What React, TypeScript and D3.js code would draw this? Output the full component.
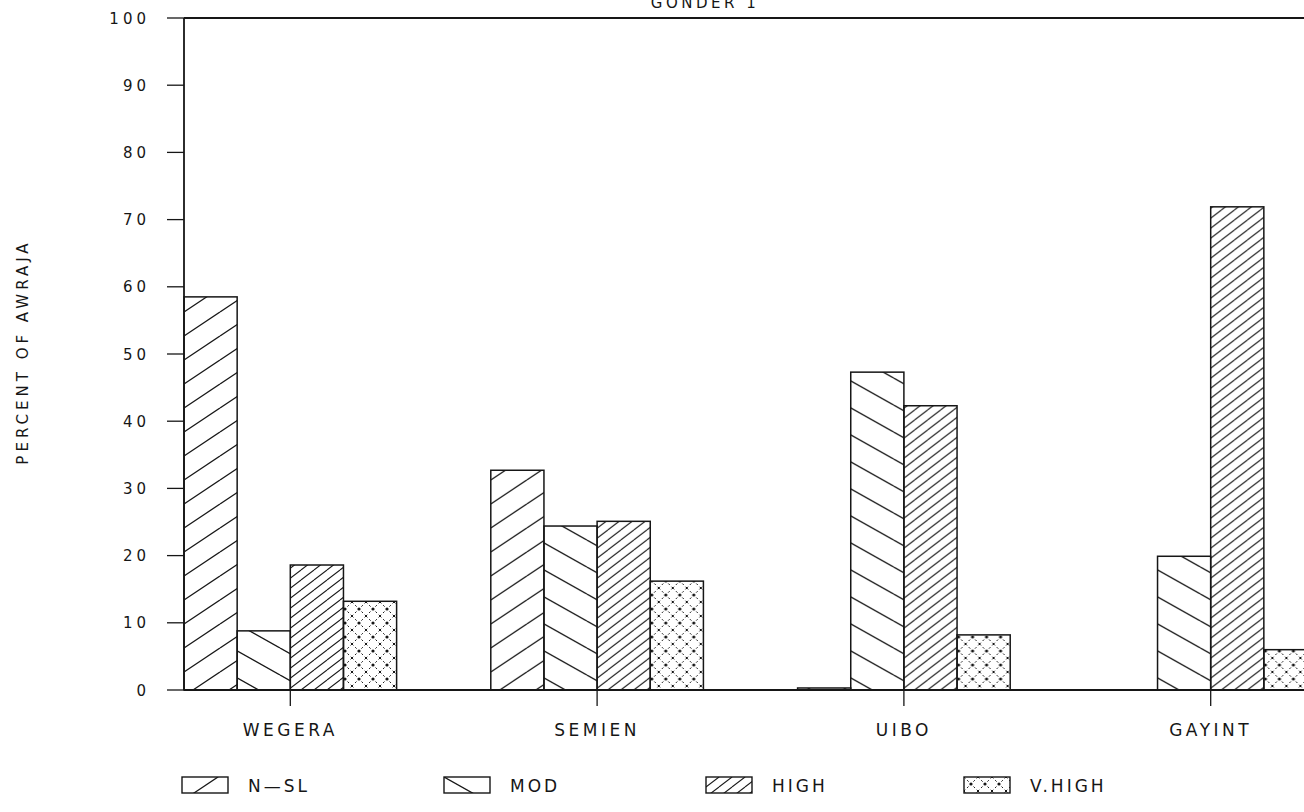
import React from "react";
import * as d3 from "d3";

const districts = ["WEGERA", "SEMIEN", "UIBO", "GAYINT"];
const classes = ["N-SL", "MOD", "HIGH", "V.HIGH"];
const legendLabels = ["N\u2014SL", "MOD", "HIGH", "V.HIGH"];
const nsl = [58.5, 32.7, 0.3, 0];
const mod = [8.8, 24.4, 47.3, 19.9];
const high = [18.6, 25.1, 42.3, 71.9];
const vhigh = [13.2, 16.2, 8.2, 6.0];
const yTicks = [0, 10, 20, 30, 40, 50, 60, 70, 80, 90, 100];

const series = [nsl, mod, high, vhigh];
const patternIds = ["pNsl", "pMod", "pHigh", "pVhigh"];
const ink = "#161616";
const font = "'DejaVu Sans', sans-serif";

const App: React.FC = () => {
    const width = 1304;
    const height = 812;
    const left = 184;
    const top = 18;
    const bottom = 690;
    const right = 1317;

    const x = d3.scaleBand<string>().domain(districts).range([left, right]).paddingInner(0.307).paddingOuter(0);
    const xs = d3.scaleBand<string>().domain(classes).range([0, x.bandwidth()]);
    const y = d3.scaleLinear().domain([0, 100]).range([bottom, top]);

    const legendX = [182, 444, 706, 964];

    return (
        <svg width={width} height={height} style={{position: "absolute", left: 0, top: 0, background: "#fff"}}>
            <defs>
                <pattern id="pNsl" patternUnits="userSpaceOnUse" width={36} height={24}>
                    {[-24, 0, 24].map((o) => (
                        <line key={o} x1={0} y1={24 + o} x2={36} y2={o} stroke={ink} strokeWidth={1.3} />
                    ))}
                </pattern>
                <pattern id="pMod" patternUnits="userSpaceOnUse" width={48} height={27}>
                    {[-27, 0, 27].map((o) => (
                        <line key={o} x1={0} y1={o} x2={48} y2={27 + o} stroke={ink} strokeWidth={1.3} />
                    ))}
                </pattern>
                <pattern id="pHigh" patternUnits="userSpaceOnUse" width={13} height={10}>
                    {[-10, 0, 10].map((o) => (
                        <line key={o} x1={0} y1={10 + o} x2={13} y2={o} stroke={ink} strokeWidth={1.1} />
                    ))}
                </pattern>
                <pattern id="pVhigh" patternUnits="userSpaceOnUse" width={14} height={14}>
                    <line x1={0} y1={0} x2={14} y2={14} stroke={ink} strokeWidth={1} strokeDasharray="2 2.5" />
                    <line x1={14} y1={0} x2={0} y2={14} stroke={ink} strokeWidth={1} strokeDasharray="2 2.5" />
                    <circle cx={7} cy={7} r={1.6} fill={ink} />
                    <circle cx={0} cy={0} r={0.9} fill={ink} />
                    <circle cx={14} cy={14} r={0.9} fill={ink} />
                </pattern>
            </defs>

            <text x={705} y={8} textAnchor="middle" fontFamily={font} fontSize={15} letterSpacing={3.5} fill={ink}>
                GONDER 1
            </text>

            {/* bars */}
            {districts.map((d, i) => (
                <g key={d} transform={`translate(${x(d)},0)`}>
                    {series.map((s, j) => (
                        <rect
                            key={j}
                            x={xs(classes[j])}
                            y={y(s[i])}
                            width={xs.bandwidth()}
                            height={bottom - y(s[i])}
                            fill={`url(#${patternIds[j]})`}
                            stroke={ink}
                            strokeWidth={1.5}
                        />
                    ))}
                </g>
            ))}

            {/* frame */}
            <line x1={left} y1={top} x2={width} y2={top} stroke={ink} strokeWidth={1.8} />
            <line x1={left} y1={top} x2={left} y2={bottom} stroke={ink} strokeWidth={1.8} />
            <line x1={left} y1={bottom} x2={width} y2={bottom} stroke={ink} strokeWidth={1.8} />

            {/* y axis */}
            {yTicks.map((t) => (
                <g key={t}>
                    <line x1={left - 17} x2={left} y1={y(t)} y2={y(t)} stroke={ink} strokeWidth={1.3} />
                    <text x={150} y={y(t) + 5.5} textAnchor="end" fontFamily={font} fontSize={15} letterSpacing={4} fill={ink}>
                        {t}
                    </text>
                </g>
            ))}
            <text
                transform={`translate(28,352) rotate(-90)`}
                textAnchor="middle"
                fontFamily={font}
                fontSize={15}
                letterSpacing={4}
                fill={ink}
            >
                PERCENT OF AWRAJA
            </text>

            {/* x axis */}
            {districts.map((d) => {
                const cx = (x(d) || 0) + x.bandwidth() / 2;
                return (
                    <g key={d}>
                        <line x1={cx} x2={cx} y1={bottom} y2={bottom + 16} stroke={ink} strokeWidth={1.3} />
                        <text x={cx} y={736} textAnchor="middle" fontFamily={font} fontSize={17} letterSpacing={3.5} fill={ink}>
                            {d}
                        </text>
                    </g>
                );
            })}

            {/* legend */}
            {legendLabels.map((l, j) => (
                <g key={l} transform={`translate(${legendX[j]},777)`}>
                    <rect width={46} height={16} fill={`url(#${patternIds[j]})`} stroke={ink} strokeWidth={1.4} />
                    <text x={66} y={15} fontFamily={font} fontSize={17} letterSpacing={3} fill={ink}>
                        {l}
                    </text>
                </g>
            ))}
        </svg>
    );
};

export default App;
